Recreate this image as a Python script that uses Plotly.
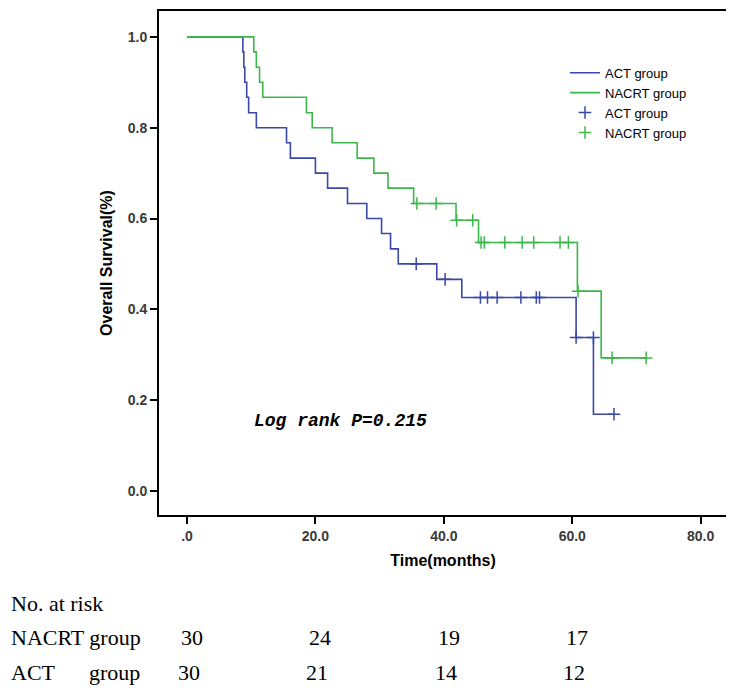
import plotly.graph_objects as go

# Kaplan-Meier steps (months, survival fraction)
act_time = [0, 8.7, 8.85, 9.0, 9.3, 9.6, 10.8, 15.5, 16.1, 20.0, 21.9, 25.0, 28.0, 30.3, 31.7, 32.9, 38.9, 42.8, 60.6, 63.3, 66.5]
act_surv = [1.0, 0.967, 0.933, 0.900, 0.867, 0.833, 0.800, 0.767, 0.733, 0.700, 0.667, 0.633, 0.600, 0.567, 0.533, 0.500, 0.466, 0.426, 0.338, 0.169, 0.169]

nacrt_time = [0, 10.4, 10.8, 11.3, 11.8, 18.6, 19.5, 22.6, 26.5, 29.1, 31.3, 35.3, 41.9, 45.4, 60.8, 64.5, 71.5]
nacrt_surv = [1.0, 0.967, 0.933, 0.900, 0.867, 0.833, 0.800, 0.767, 0.733, 0.700, 0.667, 0.633, 0.596, 0.547, 0.440, 0.293, 0.293]

# censored observations
act_cens_time = [35.7, 40.2, 45.7, 46.8, 48.3, 52.0, 54.4, 54.9, 60.6, 63.3, 66.5]
act_cens_surv = [0.500, 0.466, 0.426, 0.426, 0.426, 0.426, 0.426, 0.426, 0.338, 0.338, 0.169]

nacrt_cens_time = [35.8, 38.8, 42.0, 44.5, 45.8, 46.3, 49.5, 52.2, 54.0, 58.1, 59.4, 60.9, 66.2, 71.5]
nacrt_cens_surv = [0.633, 0.633, 0.596, 0.596, 0.547, 0.547, 0.547, 0.547, 0.547, 0.547, 0.547, 0.440, 0.293, 0.293]

# number at risk table
risk_times = [0, 20, 40, 60]
nacrt_risk = [30, 24, 19, 17]
act_risk = [30, 21, 14, 12]

x_tick_vals = [0, 20, 40, 60, 80]
x_tick_text = [".0", "20.0", "40.0", "60.0", "80.0"]
y_tick_vals = [0.0, 0.2, 0.4, 0.6, 0.8, 1.0]

BLUE = "#3a48a8"
GREEN = "#3cb84a"

# page offset (body margin) and plot area in page pixels: x 159..727, y 9..515
OFF = 8
L, R, T, B = 159, 727, 9, 515
W, H = 734, 691


def px_x(p):
    return (p - L) / (R - L)


def px_y(p):
    return (B - p) / (B - T)


fig = go.Figure()
fig.add_trace(go.Scatter(x=act_time, y=act_surv, mode="lines", line_shape="hv",
                         line=dict(color=BLUE, width=1.6), name="ACT group"))
fig.add_trace(go.Scatter(x=nacrt_time, y=nacrt_surv, mode="lines", line_shape="hv",
                         line=dict(color=GREEN, width=1.6), name="NACRT group"))
fig.add_trace(go.Scatter(x=act_cens_time, y=act_cens_surv, mode="markers", name="ACT group",
                         marker=dict(symbol="cross-thin", size=9, line=dict(color=BLUE, width=1.5))))
fig.add_trace(go.Scatter(x=nacrt_cens_time, y=nacrt_cens_surv, mode="markers", name="NACRT group",
                         marker=dict(symbol="cross-thin", size=9, line=dict(color=GREEN, width=1.5))))

axis_font = dict(family="Arial, Liberation Sans", size=14, color="#3a3a3a", weight="bold")
fig.update_xaxes(
    range=[-4.36, 84.1], tickvals=x_tick_vals, ticktext=x_tick_text,
    ticks="outside", ticklen=7, tickwidth=2, tickcolor="black",
    showline=True, linecolor="black", linewidth=2, mirror=True,
    showgrid=False, zeroline=False, tickfont=axis_font,
    title=dict(text="<b>Time(months)</b>", font=dict(family="Arial, Liberation Sans", size=16, color="black"), standoff=12),
)
fig.update_yaxes(
    range=[-0.053, 1.057], tickvals=y_tick_vals, tickformat=".1f",
    ticks="outside", ticklen=7, tickwidth=2, tickcolor="black",
    showline=True, linecolor="black", linewidth=2, mirror=True,
    showgrid=False, zeroline=False, tickfont=axis_font,
    title=dict(text="<b>Overall Survival(%)</b>", font=dict(family="Arial, Liberation Sans", size=16, color="black"), standoff=11),
)

fig.add_annotation(text="<b><i>Log rank P=0.215</i></b>", x=px_x(340), y=px_y(421),
                   xref="paper", yref="paper", xanchor="center", yanchor="middle", showarrow=False,
                   font=dict(family="Liberation Mono, Courier New", size=18, color="black"))

serif = dict(family="Times New Roman, Liberation Serif", size=22, color="black")
for txt, x0, y0 in [("No. at risk", 9, 604), ("NACRT group", 9, 638), ("ACT", 9, 673), ("group", 87, 673)]:
    fig.add_annotation(text=txt, x=px_x(x0), y=px_y(y0), xref="paper", yref="paper",
                       xanchor="left", yanchor="middle", showarrow=False, font=serif)
for t, n in zip(risk_times, nacrt_risk):
    fig.add_annotation(text=str(n), x=t, y=px_y(638), xref="x", yref="paper", xshift=5,
                       yanchor="middle", showarrow=False, font=serif)
for t, n in zip(risk_times, act_risk):
    fig.add_annotation(text=str(n), x=t, y=px_y(673), xref="x", yref="paper", xshift=2,
                       yanchor="middle", showarrow=False, font=serif)

fig.update_layout(
    width=W, height=H,
    margin=dict(l=L - OFF, r=W - R + OFF, t=T - OFF, b=H - B + OFF),
    paper_bgcolor="white", plot_bgcolor="white",
    legend=dict(x=px_x(565), y=px_y(56), xanchor="left", yanchor="top",
                bgcolor="rgba(0,0,0,0)", font=dict(family="Arial, Liberation Sans", size=13, color="black"),
                tracegroupgap=0),
    showlegend=True,
)

fig.write_html("out.html")
